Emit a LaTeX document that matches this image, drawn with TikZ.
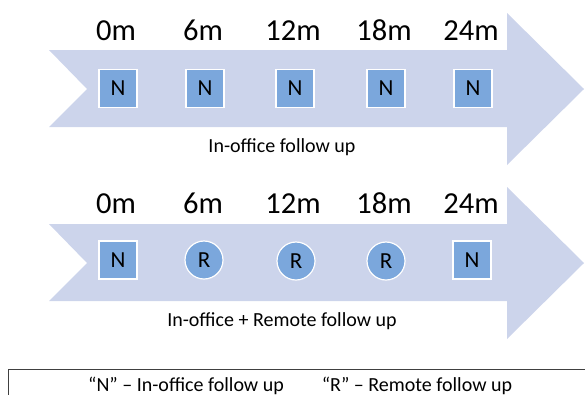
\documentclass[tikz,border=0pt]{standalone}
\usepackage{fontspec}
\setmainfont{Carlito}
\definecolor{arrowfill}{HTML}{CCD4EB}
\definecolor{boxfill}{HTML}{7BA7DC}
\begin{document}
\begin{tikzpicture}[x=1pt,y=-1pt,
  bigarrow/.style={fill=arrowfill,draw=none},
  inoffice/.style={rectangle,fill=boxfill,draw=white,line width=1.2pt,minimum size=38pt,inner sep=0pt,font=\fontsize{23}{25}\selectfont},
  remote/.style={circle,fill=boxfill,draw=white,line width=1.2pt,minimum size=38pt,inner sep=0pt,font=\fontsize{23}{25}\selectfont},
  timelbl/.style={anchor=base,inner sep=0pt,font=\fontsize{30.5}{32}\selectfont},
  caption/.style={anchor=base,inner sep=0pt,font=\fontsize{20}{22}\selectfont},
  legendtxt/.style={anchor=base,inner sep=0pt,font=\fontsize{20}{22}\selectfont}]
\useasboundingbox (0,0) rectangle (585,394);
\clip (0,0) rectangle (585,394);
% top arrow
\path[bigarrow] (49,50) -- (507,50) -- (507,13) -- (584,89) -- (507,165) -- (507,127) -- (49,127) -- (87,89) -- cycle;
% bottom arrow
\path[bigarrow] (49,224) -- (507,224) -- (507,187) -- (584,263) -- (507,339) -- (507,301) -- (49,301) -- (87,263) -- cycle;
% top row
\foreach \x/\l [count=\i] in {118/0m,205/6m,295/12m,386/18m,473/24m}{
  \node[timelbl] (ta\i) at (\x-2,40) {\l};
}
\node[inoffice] (tn1) at (118,88.5) {N};
\node[inoffice] (tn2) at (205,88.5) {N};
\node[inoffice] (tn3) at (295,88.5) {N};
\node[inoffice] (tn4) at (386,88.5) {N};
\node[inoffice] (tn5) at (473,88.5) {N};
\node[caption] (tcap) at (282,152) {In-office follow up};
% bottom row
\foreach \x/\l [count=\i] in {118/0m,205/6m,295/12m,386/18m,473/24m}{
  \node[timelbl] (ba\i) at (\x-2,213) {\l};
}
\node[inoffice] (bn1) at (118,260) {N};
\node[remote] (br2) at (204,260) {R};
\node[remote] (br3) at (296,261) {R};
\node[remote] (br4) at (386,261) {R};
\node[inoffice] (bn5) at (472,260) {N};
\node[caption] (bcap) at (282,326) {In-office + Remote follow up};
% legend
\draw[draw=black!75,line width=0.9pt] (8.5,369) rectangle (600,420);
\node[legendtxt] (lgn) at (186,391.5) {“N” – In-office follow up};
\node[legendtxt] (lgr) at (417,391.5) {“R” – Remote follow up};
\end{tikzpicture}
\end{document}
